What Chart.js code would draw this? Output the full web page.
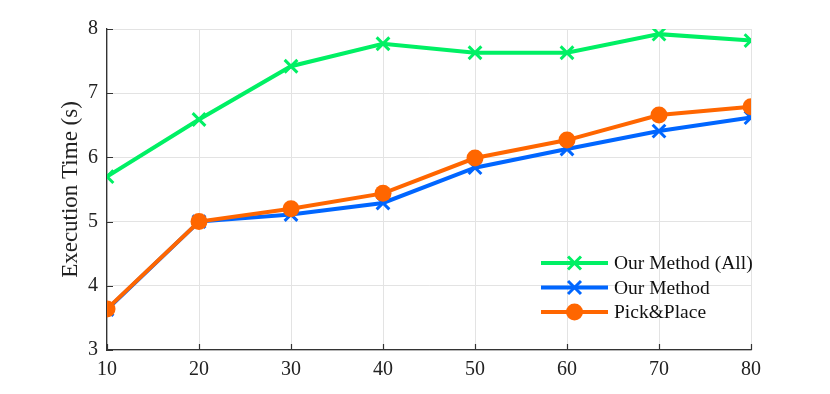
<!DOCTYPE html>
<html><head><meta charset="utf-8">
<script src="https://cdn.jsdelivr.net/npm/chart.js@4/dist/chart.umd.min.js"></script>
<style>html,body{margin:0;padding:0;background:#fff}#wrap{width:830px;height:394px}</style>
</head><body><div id="wrap"><canvas id="c" width="830" height="394"></canvas></div>
<script>
const xValues = [10, 20, 30, 40, 50, 60, 70, 80];
const ourMethodAll = [5.70, 6.59, 7.42, 7.77, 7.63, 7.63, 7.92, 7.82];
const ourMethod = [3.63, 5.00, 5.11, 5.29, 5.84, 6.13, 6.41, 6.62];
const pickPlace = [3.64, 5.00, 5.20, 5.44, 5.99, 6.27, 6.66, 6.79];
const seriesLabels = ["Our Method (All)", "Our Method", "Pick&Place"];
const yTitle = "Execution Time (s)";

const FONT = "'Liberation Serif', 'Times New Roman', serif";
const GREEN = "#00f064", BLUE = "#0066ff", ORANGE = "#ff6600";
const toPts = arr => arr.map((v, i) => ({x: xValues[i], y: v}));

const inwardTicks = {
  id: 'inwardTicks',
  afterDraw(chart) {
    const ctx = chart.ctx, a = chart.chartArea;
    const xs = chart.scales.x, ys = chart.scales.y;
    ctx.save();
    ctx.strokeStyle = '#333'; ctx.lineWidth = 1.2;
    ctx.beginPath();
    xs.ticks.forEach(t => { const p = Math.round(xs.getPixelForValue(t.value)) + 0.5; ctx.moveTo(p, a.bottom); ctx.lineTo(p, a.bottom - 6); });
    ys.ticks.forEach(t => { const p = Math.round(ys.getPixelForValue(t.value)) + 0.5; ctx.moveTo(a.left, p); ctx.lineTo(a.left + 6, p); });
    ctx.stroke();
    ctx.restore();
  }
};

const insideLegend = {
  id: 'insideLegend',
  afterDraw(chart) {
    const ctx = chart.ctx;
    const x0 = 541, x1 = 608, tx = 614, y0 = 263, dy = 24.5;
    ctx.save();
    chart.data.datasets.forEach((ds, i) => {
      const y = y0 + i * dy;
      ctx.strokeStyle = ds.borderColor; ctx.lineWidth = ds.borderWidth;
      ctx.beginPath(); ctx.moveTo(x0, y); ctx.lineTo(x1, y); ctx.stroke();
      const cx = (x0 + x1) / 2;
      if (ds.pointStyle === 'circle') {
        ctx.fillStyle = ds.pointBackgroundColor;
        ctx.beginPath(); ctx.arc(cx, y, ds.pointRadius, 0, Math.PI * 2); ctx.fill();
      } else {
        const r = ds.pointRadius * 0.72;
        ctx.lineWidth = ds.pointBorderWidth;
        ctx.beginPath();
        ctx.moveTo(cx - r, y - r); ctx.lineTo(cx + r, y + r);
        ctx.moveTo(cx - r, y + r); ctx.lineTo(cx + r, y - r);
        ctx.stroke();
      }
      ctx.fillStyle = '#111';
      ctx.font = '19.5px ' + FONT;
      ctx.textBaseline = 'middle';
      ctx.fillText(ds.label, tx, y + 1);
    });
    ctx.restore();
  }
};

new Chart(document.getElementById('c'), {
  type: 'line',
  data: {
    datasets: [
      {label: seriesLabels[0], data: toPts(ourMethodAll), borderColor: GREEN, backgroundColor: GREEN,
       borderWidth: 4, pointStyle: 'crossRot', pointRadius: 9, pointBorderWidth: 3, pointBorderColor: GREEN, pointBackgroundColor: GREEN, order: 0},
      {label: seriesLabels[1], data: toPts(ourMethod), borderColor: BLUE, backgroundColor: BLUE,
       borderWidth: 4, pointStyle: 'crossRot', pointRadius: 9, pointBorderWidth: 3, pointBorderColor: BLUE, pointBackgroundColor: BLUE, order: 2},
      {label: seriesLabels[2], data: toPts(pickPlace), borderColor: ORANGE, backgroundColor: ORANGE,
       borderWidth: 4, pointStyle: 'circle', pointRadius: 8.5, pointBorderWidth: 0, pointBorderColor: ORANGE, pointBackgroundColor: ORANGE, order: 1}
    ]
  },
  options: {
    responsive: false, animation: false,
    layout: {padding: {left: 0, right: 79, top: 29, bottom: 0}},
    plugins: {legend: {display: false}, tooltip: {enabled: false}},
    elements: {line: {tension: 0}},
    scales: {
      x: {type: 'linear', min: 10, max: 80,
          ticks: {stepSize: 10, color: '#222', font: {family: FONT, size: 20}, padding: 8, maxRotation: 0},
          grid: {color: '#e3e3e3', lineWidth: 1, drawTicks: false},
          border: {color: '#333', width: 1.3},
          afterFit(s) { s.height = 44; }},
      y: {min: 3, max: 8,
          ticks: {stepSize: 1, color: '#222', font: {family: FONT, size: 20}, padding: 9},
          grid: {color: '#e3e3e3', lineWidth: 1, drawTicks: false},
          border: {color: '#333', width: 1.3},
          title: {display: true, text: yTitle, color: '#222', font: {family: FONT, size: 23}, padding: {top: 57, bottom: 0}},
          afterFit(s) { s.width = 107; }}
    }
  },
  plugins: [inwardTicks, insideLegend]
});
</script></body></html>
